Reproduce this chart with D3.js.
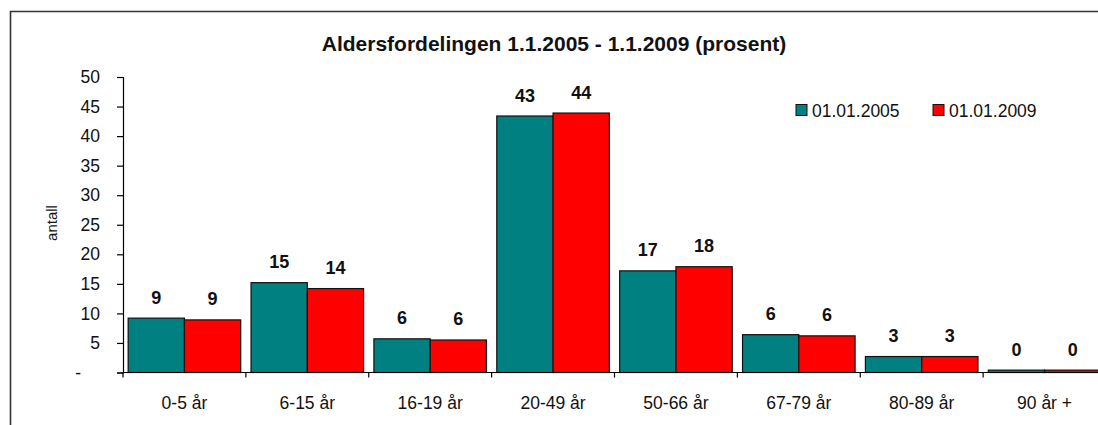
<!DOCTYPE html>
<html>
<head>
<meta charset="utf-8">
<script src="https://cdn.jsdelivr.net/npm/d3@7"></script>
<style>
  body { margin: 0; background: #fff; }
  svg { font-family: "Liberation Sans", Arial, sans-serif; }
</style>
</head>
<body>
<div id="chart"></div>
<script>
// data
const categories = ["0-5 år", "6-15 år", "16-19 år", "20-49 år", "50-66 år", "67-79 år", "80-89 år", "90 år +"];
const seriesNames = ["01.01.2005", "01.01.2009"];
const values2005 = [9.2, 15.2, 5.7, 43.4, 17.2, 6.4, 2.7, 0.4];
const values2009 = [8.9, 14.2, 5.5, 43.9, 17.9, 6.2, 2.7, 0.4];
const yTicks = [0, 5, 10, 15, 20, 25, 30, 35, 40, 45, 50];

const width = 1098, height = 425;
const colors = d3.scaleOrdinal().domain(seriesNames).range(["#008080", "#ff0000"]);

const svg = d3.select("#chart").append("svg")
  .attr("width", width).attr("height", height);

// outer frame (runs off the right and bottom edges)
svg.append("path")
  .attr("d", `M10.5,${height + 5} V11.5 H${width + 5}`)
  .attr("fill", "none").attr("stroke", "#333").attr("stroke-width", 1.6);

const x0 = d3.scaleBand().domain(categories).range([123, 1106]).paddingInner(0.084).paddingOuter(0.042);
const x1 = d3.scaleBand().domain(seriesNames).range([0, x0.bandwidth()]);
const y = d3.scaleLinear().domain([0, 50]).range([372.5, 77]);

// y axis
const yAxis = svg.append("g").attr("transform", "translate(123,0)")
  .call(d3.axisLeft(y).tickValues(yTicks).tickSize(6).tickPadding(17)
    .tickFormat(d => d === 0 ? "-" : d));
yAxis.select(".domain").attr("stroke", "#000").attr("stroke-width", 1.2);
yAxis.selectAll(".tick line").attr("stroke", "#000").attr("stroke-width", 1.2);
yAxis.selectAll(".tick text").attr("font-size", 17.5).attr("fill", "#111")
  .attr("font-family", "Liberation Sans, Arial, sans-serif");
yAxis.selectAll(".tick").filter(d => d === 0).select("text").attr("dx", -19);

// bars
const rows = categories.map((c, i) => ({ cat: c, vals: [values2005[i], values2009[i]] }));
const groups = svg.selectAll("g.grp").data(rows).join("g")
  .attr("class", "grp")
  .attr("transform", d => `translate(${x0(d.cat)},0)`);

groups.selectAll("rect").data(d => d.vals.map((v, j) => ({ key: seriesNames[j], v })))
  .join("rect")
  .attr("x", d => x1(d.key))
  .attr("y", d => y(d.v))
  .attr("width", x1.bandwidth())
  .attr("height", d => y(0) - y(d.v))
  .attr("fill", d => colors(d.key))
  .attr("stroke", "#111").attr("stroke-width", 1.2);

groups.selectAll("text").data(d => d.vals.map((v, j) => ({ key: seriesNames[j], v })))
  .join("text")
  .attr("x", d => x1(d.key) + x1.bandwidth() / 2)
  .attr("y", d => y(d.v) - 14.5)
  .attr("text-anchor", "middle")
  .attr("font-size", 18).attr("font-weight", "bold").attr("fill", "#111")
  .text(d => Math.round(d.v));

// x axis with ticks between categories
const xAxis = svg.append("g").attr("transform", `translate(0,${y(0)})`);
xAxis.append("line").attr("x1", 123).attr("x2", 1106)
  .attr("stroke", "#000").attr("stroke-width", 1.2);
const boundaries = categories.map(c => x0(c) - x0.step() * x0.paddingInner() / 2);
xAxis.selectAll("line.tk").data(boundaries).join("line")
  .attr("class", "tk")
  .attr("x1", d => d).attr("x2", d => d).attr("y1", 0).attr("y2", 5)
  .attr("stroke", "#000").attr("stroke-width", 1.2);
xAxis.selectAll("text").data(categories).join("text")
  .attr("x", d => x0(d) + x0.bandwidth() / 2)
  .attr("y", 36)
  .attr("text-anchor", "middle")
  .attr("font-size", 17.5).attr("fill", "#111")
  .text(d => d);

// y label
svg.append("text")
  .attr("transform", "translate(57,223) rotate(-90)")
  .attr("text-anchor", "middle")
  .attr("font-size", 15).attr("fill", "#111")
  .text("antall");

// title
svg.append("text")
  .attr("x", 554).attr("y", 51)
  .attr("text-anchor", "middle")
  .attr("font-size", 21).attr("font-weight", "bold").attr("fill", "#111")
  .text("Aldersfordelingen 1.1.2005 - 1.1.2009 (prosent)");

// legend
const legendX = [796, 933];
const legend = svg.selectAll("g.leg").data(seriesNames).join("g")
  .attr("class", "leg")
  .attr("transform", (d, i) => `translate(${legendX[i]},104.5)`);
legend.append("rect").attr("width", 11).attr("height", 11)
  .attr("fill", d => colors(d)).attr("stroke", "#111").attr("stroke-width", 1);
legend.append("text").attr("x", 16).attr("y", 12)
  .attr("font-size", 17.5).attr("fill", "#111").text(d => d);
</script>
</body>
</html>
